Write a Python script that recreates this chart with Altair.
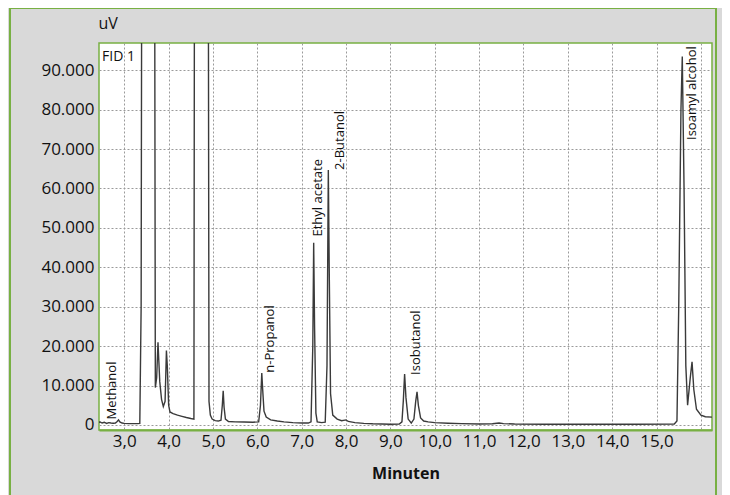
import altair as alt
import pandas as pd

# Chromatogram trace (minutes, uV)
minutes = [2.43, 2.45, 2.50, 2.55, 2.60, 2.65, 2.70, 2.75, 2.80, 2.84, 2.87, 2.90, 2.95, 3.00,
           3.10, 3.20, 3.30, 3.35, 3.38, 3.42, 3.66, 3.70, 3.73, 3.76, 3.78, 3.80, 3.84, 3.88,
           3.92, 3.95, 3.97, 4.00, 4.03, 4.10, 4.20, 4.30, 4.40, 4.50, 4.57, 4.60, 4.87, 4.91,
           4.94, 4.98, 5.05, 5.12, 5.18, 5.21, 5.23, 5.25, 5.28, 5.35, 5.50, 5.70, 5.90, 6.03,
           6.07, 6.10, 6.12, 6.15, 6.20, 6.30, 6.45, 6.60, 6.80, 7.00, 7.15, 7.21, 7.25, 7.27,
           7.29, 7.32, 7.35, 7.45, 7.53, 7.57, 7.60, 7.62, 7.65, 7.70, 7.80, 7.90, 8.00, 8.05,
           8.20, 8.40, 8.60, 8.80, 9.00, 9.20, 9.26, 9.29, 9.32, 9.35, 9.40, 9.47, 9.53, 9.57,
           9.60, 9.63, 9.68, 9.75, 9.85, 10.00, 10.30, 10.60, 11.00, 11.30, 11.45, 11.55, 11.80,
           12.50, 13.50, 14.50, 15.40, 15.46, 15.50, 15.55, 15.58, 15.62, 15.66, 15.70, 15.76,
           15.80, 15.84, 15.90, 16.00, 16.10, 16.25]
signal = [600, 800, 500, 700, 400, 600, 500, 450, 500, 900, 1300, 800, 500, 400,
          350, 350, 350, 400, 30000, 300000, 300000, 9500, 12000, 21000, 16000, 11000, 6500, 4700,
          6000, 18900, 15000, 5000, 3300, 2900, 2500, 2200, 1900, 1650, 1500, 300000, 300000, 6000,
          2500, 1500, 1100, 1000, 1200, 5000, 8700, 4500, 1500, 900, 800, 750, 700, 800,
          5000, 13200, 9000, 3500, 2000, 1300, 1000, 800, 600, 500, 500, 800, 20000, 46200,
          25000, 3000, 800, 600, 700, 15000, 64700, 40000, 8000, 2500, 1500, 1100, 1300, 900,
          600, 400, 300, 250, 200, 250, 800, 6000, 12900, 7000, 1500, 500, 1500, 6000,
          8400, 5000, 1800, 1000, 800, 600, 450, 350, 250, 300, 500, 350, 250,
          200, 200, 200, 250, 1000, 30000, 80000, 93500, 60000, 15000, 5000, 12000,
          16000, 9000, 4000, 2500, 2100, 2000]

# Peak annotations
peak_names = ["Methanol", "n-Propanol", "Ethyl acetate", "2-Butanol", "Isobutanol", "Isoamyl alcohol"]
peak_label_t = [2.73, 6.28, 7.36, 7.87, 9.57, 15.81]
peak_label_v = [1400, 13270, 47800, 64700, 12700, 72300]

detector_label = ["FID 1"]
detector_t = [2.50]
detector_v = [95200]

x_ticks = [3, 4, 5, 6, 7, 8, 9, 10, 11, 12, 13, 14, 15, 16]
y_ticks = [0, 10000, 20000, 30000, 40000, 50000, 60000, 70000, 80000, 90000]

GREEN = "#78b043"
FONT = "Open Sans"

trace = pd.DataFrame({"t": minutes, "v": signal})
labels = pd.DataFrame({"name": peak_names, "t": peak_label_t, "v": peak_label_v})
fid = pd.DataFrame({"name": detector_label, "t": detector_t, "v": detector_v})

x_scale = alt.Scale(domain=[2.43, 16.25], nice=False, zero=False)
y_scale = alt.Scale(domain=[-1270, 96900], nice=False, zero=False)

x_axis = alt.Axis(
    title="Minuten", values=x_ticks,
    labelExpr="datum.value >= 16 ? '' : replace(format(datum.value, '.1f'), '.', ',')",
    grid=True, ticks=False, domain=True, domainColor=GREEN, domainWidth=2,
    labelFontSize=17, labelPadding=3, labelColor="#111", labelFont=FONT,
    titleFontSize=16, titleFontWeight="bold", titleColor="#111", titleFont=FONT,
    titleBaseline="alphabetic", titleY=48,
)
y_axis = alt.Axis(
    title="uV", values=y_ticks,
    labelExpr="replace(format(datum.value, ','), ',', '.')",
    grid=True, ticks=False, domain=False,
    labelFontSize=17, labelPadding=5, labelColor="#111", labelFont=FONT,
    titleFontSize=16, titleFontWeight="normal", titleColor="#111", titleFont=FONT,
    titleAngle=0, titleAlign="left", titleBaseline="alphabetic", titleX=-1, titleY=-15,
)

frame = alt.Chart(alt.Data(values=[{"f": 1}])).mark_rect(
    fill="transparent", stroke=GREEN, strokeWidth=2
).encode(
    x=alt.value(-89), x2=alt.value(617), y=alt.value(-35), y2=alt.value(470)
)

line = alt.Chart(trace).mark_line(color="#3a3a3a", strokeWidth=1.4, clip=True).encode(
    x=alt.X("t:Q", scale=x_scale, axis=x_axis),
    y=alt.Y("v:Q", scale=y_scale, axis=y_axis),
)

peak_text = alt.Chart(labels).mark_text(
    angle=270, align="left", baseline="middle", fontSize=13, font=FONT, color="#111"
).encode(
    x=alt.X("t:Q", scale=x_scale), y=alt.Y("v:Q", scale=y_scale), text="name:N"
)

fid_text = alt.Chart(fid).mark_text(
    align="left", baseline="top", fontSize=14, font=FONT, color="#111"
).encode(
    x=alt.X("t:Q", scale=x_scale), y=alt.Y("v:Q", scale=y_scale), text="name:N"
)

chart = alt.layer(frame, line, peak_text, fid_text).properties(
    width=613, height=387,
    autosize=alt.AutoSizeParams(type="none"),
    padding={"left": 91, "top": 35, "right": 10, "bottom": 65},
    background="#d9d9d9",
).configure_view(
    fill="white", stroke=GREEN, strokeWidth=1.5
).configure_axis(
    gridColor="#9a9a9a", gridDash=[2, 2], gridWidth=1
)

chart.save("out.html", embed_options={"renderer": "svg", "actions": False})
